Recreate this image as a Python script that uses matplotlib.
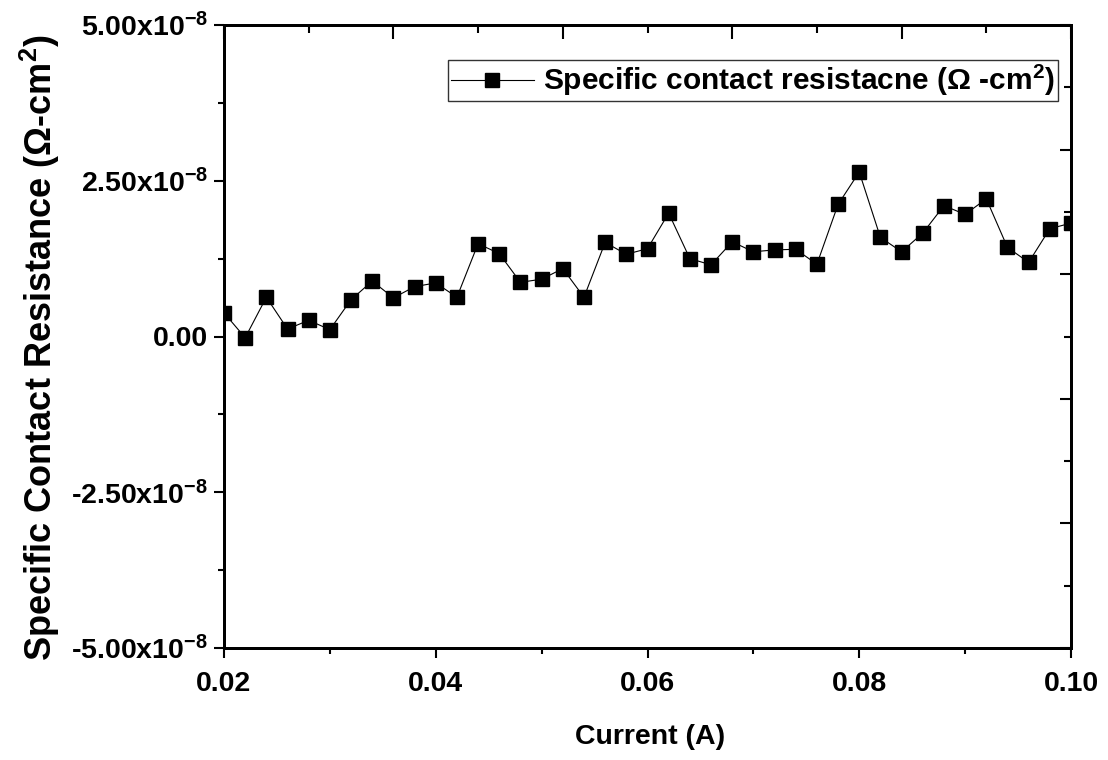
import numpy as np
import matplotlib

matplotlib.use("Agg")
import matplotlib.pyplot as plt
from matplotlib.ticker import MultipleLocator, FixedLocator, FuncFormatter

plt.rcParams["font.family"] = ["Liberation Sans", "DejaVu Sans"]
plt.rcParams["font.weight"] = "bold"
plt.rcParams["mathtext.fontset"] = "custom"
plt.rcParams["mathtext.rm"] = "Liberation Sans:bold"
plt.rcParams["mathtext.bf"] = "Liberation Sans:bold"
plt.rcParams["mathtext.it"] = "Liberation Sans:bold"
plt.rcParams["mathtext.default"] = "rm"

# current (A), every 2 mA
current = np.round(np.arange(0.020, 0.1001, 0.002), 3)
# specific contact resistance, in units of 1e-8 ohm cm^2
rho_c_e8 = [
    0.38, -0.02, 0.63, 0.12, 0.26, 0.11, 0.59, 0.89, 0.62, 0.80,
    0.86, 0.63, 1.49, 1.33, 0.87, 0.92, 1.09, 0.63, 1.51, 1.32,
    1.41, 1.98, 1.25, 1.15, 1.52, 1.36, 1.39, 1.40, 1.16, 2.12,
    2.64, 1.59, 1.36, 1.66, 2.10, 1.96, 2.21, 1.43, 1.19, 1.73,
    1.82,
]
rho_c = np.array(rho_c_e8) * 1e-8

X_LIM = (0.02, 0.10)
Y_LIM = (-5e-8, 5e-8)
TOP_MAJOR = [0.02, 0.036, 0.052, 0.068, 0.084, 0.100]
TOP_MINOR = [0.028, 0.044, 0.060, 0.076, 0.092]
RIGHT_MAJOR = [-5e-8, -3e-8, -1e-8, 1e-8, 3e-8, 5e-8]
RIGHT_MINOR = [-4e-8, -2e-8, 0.0, 2e-8, 4e-8]


def sci_fmt(v, pos):
    if abs(v) < 1e-12:
        return "0.00"
    return f"{v / 1e-8:.2f}x10$^{{-8}}$"


fig = plt.figure(figsize=(11.08, 7.60), dpi=100)
L, R, B, T = 224, 1071, 648, 25
W, H = 1108, 760
ax = fig.add_axes([L / W, 1 - B / H, (R - L) / W, (B - T) / H])

ax.plot(current, rho_c, color="black", lw=0.8, marker="s", ms=10,
        mfc="black", mec="black", label="Specific contact resistacne (Ω -cm$^2$)")

ax.set_xlim(*X_LIM)
ax.set_ylim(*Y_LIM)
ax.xaxis.set_major_locator(MultipleLocator(0.02))
ax.xaxis.set_minor_locator(MultipleLocator(0.01))
ax.yaxis.set_major_locator(MultipleLocator(2.5e-8))
ax.yaxis.set_minor_locator(MultipleLocator(1.25e-8))
ax.xaxis.set_major_formatter(FuncFormatter(lambda v, p: f"{v:.2f}"))
ax.yaxis.set_major_formatter(FuncFormatter(sci_fmt))
ax.yaxis.get_offset_text().set_visible(False)

ax.tick_params(which="major", direction="out", length=7.5, width=1.5,
               labelsize=20.5, pad=4)
ax.tick_params(which="minor", direction="out", length=4.5, width=1.5)
ax.tick_params(axis="x", which="major", pad=9)

# mirrored axes with their own tick spacing
ax_top = ax.twiny()
ax_top.set_xlim(*X_LIM)
ax_top.xaxis.set_major_locator(FixedLocator(TOP_MAJOR))
ax_top.xaxis.set_minor_locator(FixedLocator(TOP_MINOR))
ax_top.tick_params(which="major", direction="in", length=10, width=1.5, labeltop=False)
ax_top.tick_params(which="minor", direction="in", length=6, width=1.5)

ax_right = ax.twinx()
ax_right.set_ylim(*Y_LIM)
ax_right.yaxis.set_major_locator(FixedLocator(RIGHT_MAJOR))
ax_right.yaxis.set_minor_locator(FixedLocator(RIGHT_MINOR))
ax_right.tick_params(which="major", direction="in", length=8, width=1.5, labelright=False)
ax_right.tick_params(which="minor", direction="in", length=5, width=1.5)

for a in (ax, ax_top, ax_right):
    for sp in a.spines.values():
        sp.set_linewidth(2)

fig.text(650 / W, 1 - 737 / H, "Current (A)", ha="center", va="center",
         fontsize=20.5, fontweight="bold")
fig.text(40 / W, 1 - 348 / H, "Specific Contact Resistance (Ω-cm$^2$)",
         ha="center", va="center", rotation=90, fontsize=26, fontweight="bold")

leg = ax.legend(loc="upper right", bbox_to_anchor=((1058 - L) / (R - L), (B - 60) / (B - T)),
                fontsize=21.5, frameon=True, fancybox=False, handlelength=2.8,
                handletextpad=0.3, borderpad=0.1, borderaxespad=0)
leg.get_frame().set_edgecolor("black")
leg.get_frame().set_linewidth(1.0)

fig.savefig("out.png", dpi=100)
